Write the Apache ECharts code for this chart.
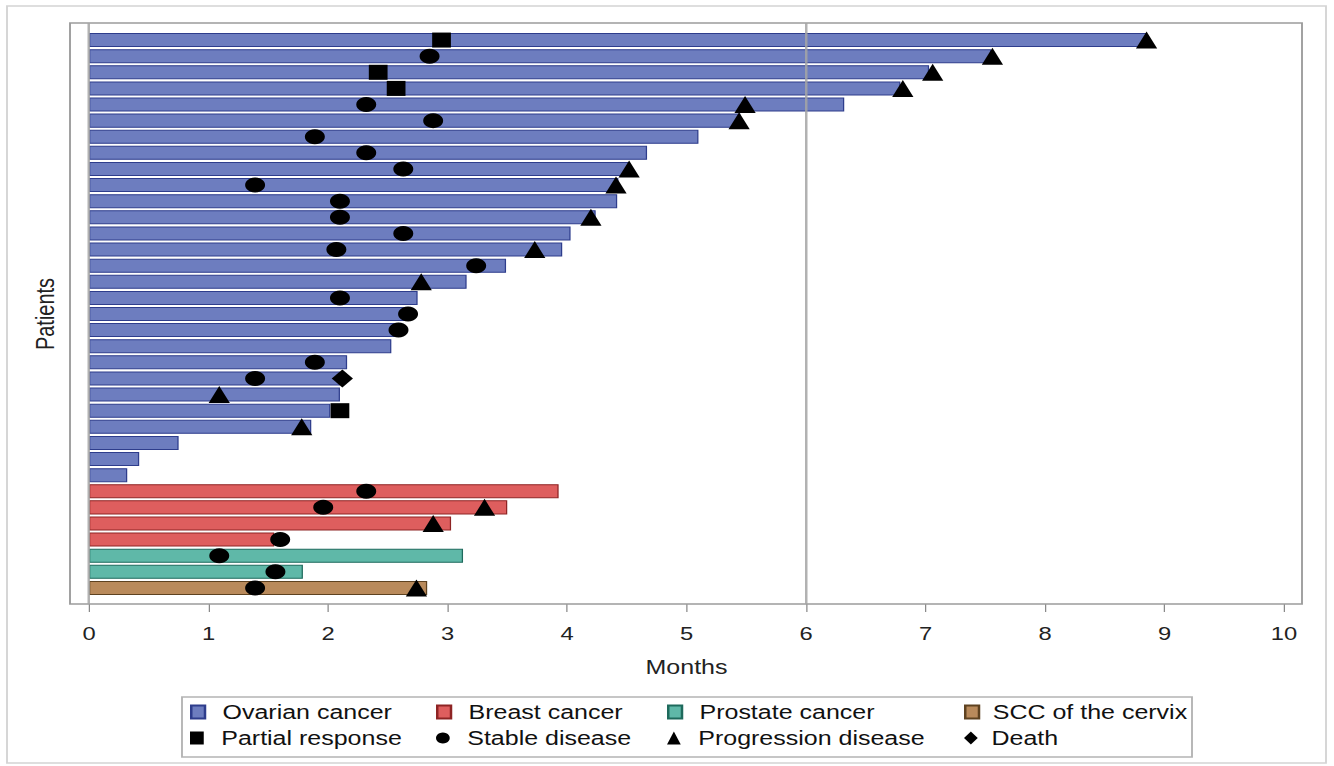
<!DOCTYPE html>
<html>
<head>
<meta charset="utf-8">
<script src="https://cdn.jsdelivr.net/npm/echarts@6/dist/echarts.min.js"></script>
<style>
html,body{margin:0;padding:0;background:#fff;overflow:hidden;}
#wrap{width:1334px;height:766px;overflow:hidden;position:relative;}
#c{width:1067.2px;height:766px;transform:scaleX(1.25);transform-origin:0 0;}
</style>
</head>
<body>
<div id="wrap"><div id="c"></div></div>
<script>
// ---- data ----
const patients = ['P1','P2','P3','P4','P5','P6','P7','P8','P9','P10','P11','P12','P13','P14','P15','P16','P17','P18','P19','P20','P21','P22','P23','P24','P25','P26','P27','P28','P29','P30','P31','P32','P33','P34','P35'];
const ovarianMonths = [8.85, 7.55, 7.03, 6.79, 6.32, 5.45, 5.10, 4.67, 4.52, 4.43, 4.42, 4.24, 4.03, 3.96, 3.49, 3.16, 2.75, 2.67, 2.58, 2.53, 2.16, 2.10, 2.10, 2.02, 1.86, 0.75, 0.42, 0.32];
const breastMonths = [3.93, 3.50, 3.03, 1.55];
const prostateMonths = [3.13, 1.79];
const cervixMonths = [2.83];
const partialResponse = [[2.95,'P1'],[2.42,'P3'],[2.57,'P4'],[2.10,'P24']];
const stableDisease = [[2.85,'P2'],[2.32,'P5'],[2.88,'P6'],[1.89,'P7'],[2.32,'P8'],[2.63,'P9'],[1.39,'P10'],[2.10,'P11'],[2.10,'P12'],[2.63,'P13'],[2.07,'P14'],[3.24,'P15'],[2.10,'P17'],[2.67,'P18'],[2.59,'P19'],[1.89,'P21'],[1.39,'P22'],[2.32,'P29'],[1.96,'P30'],[1.60,'P32'],[1.09,'P33'],[1.56,'P34'],[1.39,'P35']];
const progressionDisease = [[8.85,'P1'],[7.56,'P2'],[7.06,'P3'],[6.81,'P4'],[5.49,'P5'],[5.44,'P6'],[4.52,'P9'],[4.41,'P10'],[4.20,'P12'],[3.73,'P14'],[2.78,'P16'],[1.09,'P23'],[1.78,'P25'],[3.31,'P30'],[2.88,'P31'],[2.74,'P35']];
const death = [[2.12,'P22']];
const xTicks = [0,1,2,3,4,5,6,7,8,9,10];
const refLines = [0, 6];

// ---- build ----
const S = 1.25; // horizontal stretch of the reference picture
const X = v => v / S;
const groups = [
  {name:'Ovarian cancer', vals:ovarianMonths, color:'#6D7DBF', border:'#2E3D8C'},
  {name:'Breast cancer', vals:breastMonths, color:'#DE5E5E', border:'#8E2424'},
  {name:'Prostate cancer', vals:prostateMonths, color:'#5FB8A8', border:'#1E6A5C'},
  {name:'SCC of the cervix', vals:cervixMonths, color:'#B98A5B', border:'#5E4220'}
];
let offset = 0;
const barSeries = groups.map(g => {
  const data = patients.map(() => '-');
  g.vals.forEach((v, i) => { data[offset + i] = v; });
  offset += g.vals.length;
  return {
    name: g.name, type: 'bar', xAxisIndex: 0, yAxisIndex: 0,
    data: data, barWidth: '87%', barGap: '-100%',
    itemStyle: {color: g.color, borderColor: g.border, borderWidth: 1},
    z: 2
  };
});
const markers = [
  {name:'Partial response', data:partialResponse, symbol:'rect', size:[15,15]},
  {name:'Stable disease', data:stableDisease, symbol:'circle', size:[16,15]},
  {name:'Progression disease', data:progressionDisease, symbol:'triangle', size:[17,17]},
  {name:'Death', data:death, symbol:'diamond', size:[17,18]}
];
const markerSeries = markers.map(m => ({
  name: m.name, type: 'scatter', xAxisIndex: 0, yAxisIndex: 0,
  data: m.data, symbol: m.symbol, symbolSize: m.size,
  itemStyle: {color: '#000', opacity: 1}, z: 4
}));
const refSeries = {
  type: 'scatter', xAxisIndex: 1, yAxisIndex: 1, data: [], symbolSize: 0, silent: true,
  markLine: {
    silent: true, symbol: ['none','none'], label: {show: false},
    lineStyle: {color: '#a4a4a4', width: 2, type: 'solid', opacity: 0.85},
    data: refLines.map(v => ({xAxis: v})), z: 3
  }
};

const legendCols = [152, 348.8, 533.6, 771.2];
const legends = [];
const allNames = groups.map(g => g.name).concat(markers.map(m => m.name));
const icons = ['rect','rect','rect','rect','rect','circle','triangle','diamond'];
allNames.forEach((n, i) => {
  legends.push({
    data: [{name: n, icon: icons[i]}],
    left: legendCols[i % 4], top: i < 4 ? 702 : 728,
    itemWidth: 11, itemHeight: 13, selectedMode: false, padding: 0,
    textStyle: {fontFamily: 'Liberation Sans, Arial, sans-serif', fontSize: 20, color: '#111', padding: [0,0,0,i % 4 === 3 ? 6 : 9]}
  });
});

const chart = echarts.init(document.getElementById('c'), null, {renderer: 'svg', width: 1067.2, height: 766});
chart.setOption({
  animation: false,
  backgroundColor: '#fff',
  textStyle: {fontFamily: 'Liberation Sans, Arial, sans-serif'},
  grid: [
    {left: 71.2, right: 40, top: 32, bottom: 170},
    {left: 71.2, right: 40, top: 23, bottom: 162}
  ],
  xAxis: [
    {gridIndex: 0, type: 'value', min: 0, max: 10, show: false},
    {gridIndex: 1, type: 'value', min: 0, max: 10, interval: 1,
     axisLine: {show: false},
     axisTick: {show: true, length: 8, lineStyle: {color: '#8a8a8a', width: 1}},
     axisLabel: {fontSize: 19, color: '#222', margin: 20, formatter: v => xTicks.includes(v) ? String(v) : ''},
     splitLine: {show: false},
     name: 'Months', nameLocation: 'middle', nameGap: 53,
     nameTextStyle: {fontSize: 20, color: '#222'}}
  ],
  yAxis: [
    {gridIndex: 0, type: 'category', data: patients, inverse: true,
     axisLine: {show: false}, axisTick: {show: false}, axisLabel: {show: false},
     name: 'Patients', nameLocation: 'middle', nameGap: 25, nameRotate: 90,
     nameTextStyle: {fontSize: 20, color: '#222'}},
    {gridIndex: 1, type: 'value', min: 0, max: 1, show: false}
  ],
  legend: legends,
  graphic: [
    {type: 'rect', shape: {x: X(7), y: 6, width: X(1326) - X(7), height: 757}, style: {fill: 'none', stroke: '#d4d4d4', lineWidth: 1.5}, silent: true, z: 0},
    {type: 'rect', shape: {x: X(70), y: 23, width: X(1302) - X(70), height: 581}, style: {fill: 'none', stroke: '#9c9c9c', lineWidth: 1.5}, silent: true, z: 1},
    {type: 'rect', shape: {x: X(182), y: 697, width: X(1192) - X(182), height: 60}, style: {fill: 'none', stroke: '#b4b4b4', lineWidth: 1.5}, silent: true, z: 1}
  ],
  series: barSeries.concat([refSeries]).concat(markerSeries)
});
</script>
</body>
</html>
